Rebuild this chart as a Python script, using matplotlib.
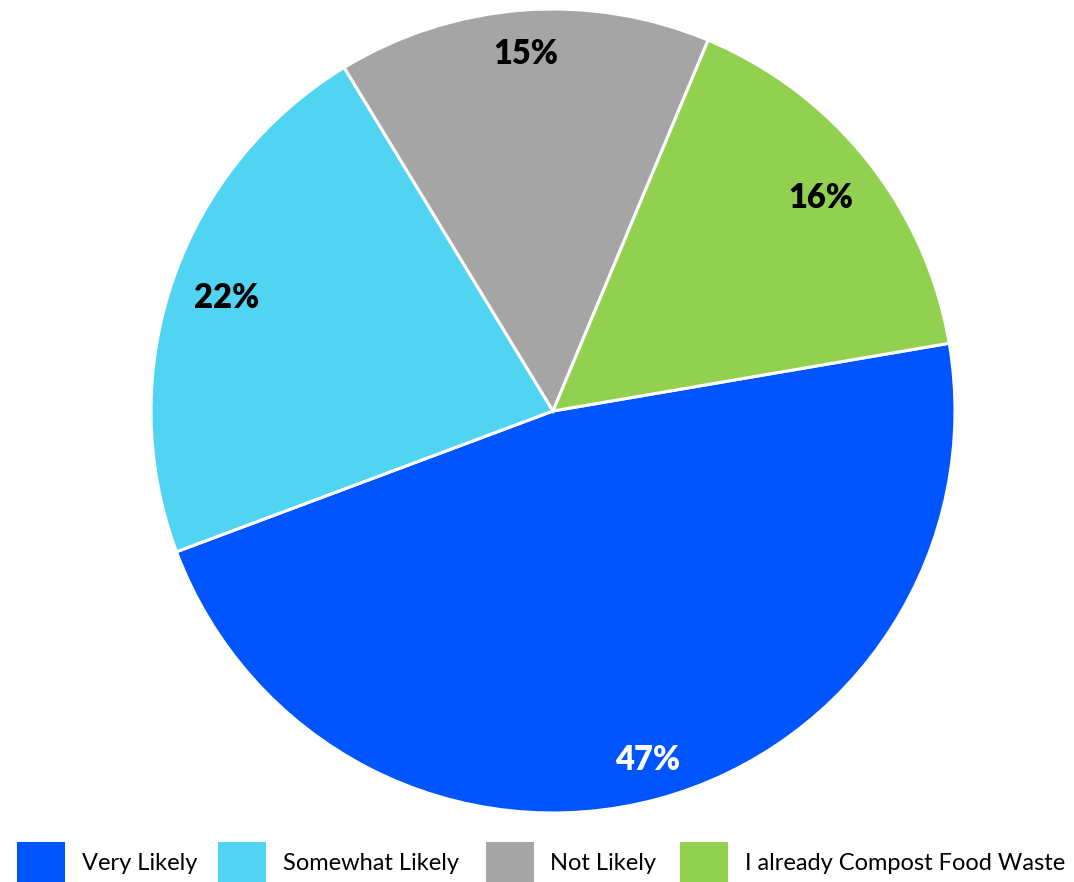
import matplotlib.pyplot as plt
from matplotlib.patches import Rectangle
import numpy as np

# survey responses (percent)
labels = ["Very Likely", "Somewhat Likely", "Not Likely", "I already Compost Food Waste"]
shares = [47, 22, 15, 16]
colors = ["#0055FF", "#50D4F2", "#A5A5A5", "#92D050"]
label_colors = ["white", "black", "black", "black"]
label_radius = [0.90, 0.86, 0.89, 0.85]

W, H = 1074, 882
fig = plt.figure(figsize=(W / 100, H / 100), dpi=100)

# pie axes: centre (553, 411) px, radius 402 px
cx, cy, r = 553, 411, 402
ax = fig.add_axes([(cx - r) / W, (H - cy - r) / H, 2 * r / W, 2 * r / H])
wedges, _ = ax.pie(shares, colors=colors, startangle=9.7, counterclock=False,
                   wedgeprops=dict(edgecolor="white", linewidth=2.2))
ax.set_xlim(-1, 1)
ax.set_ylim(-1, 1)
ax.set_aspect("equal")
ax.axis("off")

for w, v, c, rr in zip(wedges, shares, label_colors, label_radius):
    mid = np.deg2rad((w.theta1 + w.theta2) / 2)
    ax.text(rr * np.cos(mid), rr * np.sin(mid), f"{v}%", ha="center", va="center",
            color=c, fontsize=23.5, fontweight="heavy", family="Lato")

# legend along the bottom edge
box_x = [17, 218, 486, 680]
text_x = [82, 283, 550, 745]
for bx, tx, lab, col in zip(box_x, text_x, labels, colors):
    fig.patches.append(Rectangle((bx / W, 0), 48 / W, 40 / H, transform=fig.transFigure,
                                 facecolor=col, edgecolor="none"))
    fig.text(tx / W, (H - 864) / H, lab, ha="left", va="center", fontsize=17,
             family="Lato", color="black")

fig.savefig("out.png", dpi=100, facecolor="white")
